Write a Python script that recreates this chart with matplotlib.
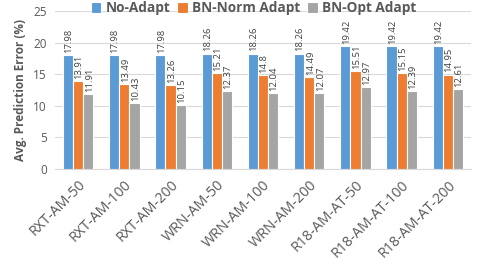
import matplotlib
matplotlib.use("Agg")
import matplotlib.pyplot as plt
import numpy as np

categories = ["RXT-AM-50", "RXT-AM-100", "RXT-AM-200", "WRN-AM-50", "WRN-AM-100",
              "WRN-AM-200", "R18-AM-AT-50", "R18-AM-AT-100", "R18-AM-AT-200"]
series_names = ["No-Adapt", "BN-Norm Adapt", "BN-Opt Adapt"]
no_adapt = [17.98, 17.98, 17.98, 18.26, 18.26, 18.26, 19.42, 19.42, 19.42]
bn_norm = [13.91, 13.49, 13.26, 15.21, 14.8, 14.49, 15.51, 15.15, 14.95]
bn_opt = [11.91, 10.43, 10.15, 12.37, 12.04, 12.07, 12.97, 12.39, 12.61]
colors = ["#5B9BD5", "#ED7D31", "#A5A5A5"]

plt.rcParams['font.family'] = ['Open Sans', 'DejaVu Sans']
fig = plt.figure(figsize=(4.79, 2.65), dpi=100)
ax = fig.add_axes([0.1148, 0.3623, 0.8685, 0.596])

x = np.arange(len(categories))
w = 0.22
series = [no_adapt, bn_norm, bn_opt]
for i, (vals, name, c) in enumerate(zip(series, series_names, colors)):
    bars = ax.bar(x + (i - 1) * w, vals, w, color=c, edgecolor="white", linewidth=0.8, label=name, zorder=3)
    for b, v in zip(bars, vals):
        txt = f"{v:g}" if i == 1 else f"{v:.2f}"
        ax.text(b.get_x() + b.get_width() / 2 + 0.02, v + 0.35, txt, rotation=90, ha="center", va="bottom",
                fontsize=6.8, color="#404040")

ax.set_ylim(0, 25)
ax.set_xlim(-0.5, len(categories) - 0.5)
ax.set_yticks([0, 5, 10, 15, 20, 25])
ax.yaxis.grid(True, color="#D9D9D9", linewidth=0.8, zorder=0)
for s in ["top", "right", "left"]:
    ax.spines[s].set_visible(False)
ax.spines["bottom"].set_color("#D9D9D9")
ax.tick_params(axis="both", length=0, colors="#595959")
ax.tick_params(axis="y", labelsize=8.5, pad=6)
ax.set_xticks(x)
ax.set_xticklabels(categories, rotation=45, ha="right", rotation_mode="anchor", fontsize=10.3, color="#595959")
ax.tick_params(axis="x", pad=6)
ax.set_ylabel("Avg. Prediction Error (%)", fontsize=8.5, fontweight="bold", color="#595959")

ax.legend(loc="upper center", bbox_to_anchor=(0.477, 1.14), ncol=3, frameon=False,
          prop={"size": 9.8, "weight": "bold"}, labelcolor="#595959", handlelength=0.8,
          handleheight=0.8, columnspacing=0.5, handletextpad=0.3)

fig.savefig("out.png", dpi=100)
